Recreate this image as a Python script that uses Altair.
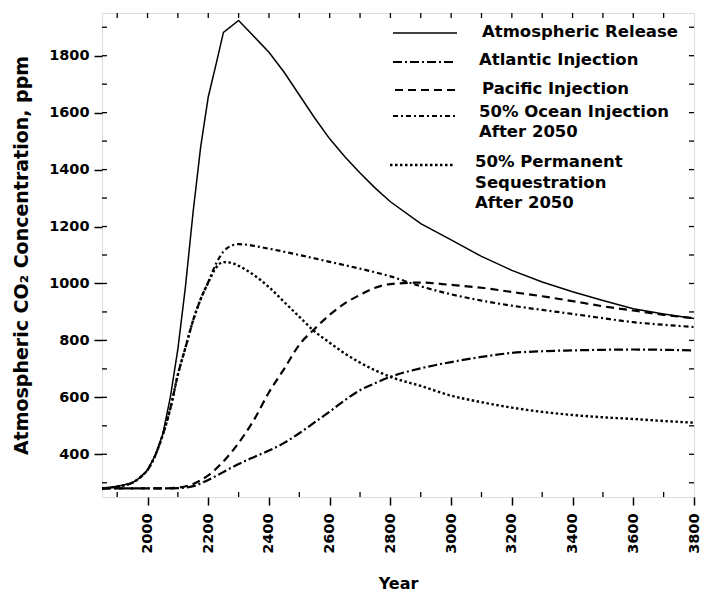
import altair as alt
import pandas as pd

# ---------------- data ----------------
years_atm = [1850, 1900, 1950, 1975, 2000, 2025, 2050, 2075, 2100, 2125, 2150, 2175, 2200,
             2225, 2250, 2300, 2350, 2400, 2450, 2500, 2550, 2600, 2650, 2700, 2750, 2800,
             2900, 3000, 3100, 3200, 3300, 3400, 3500, 3600, 3700, 3800]
atm = [280, 287, 300, 318, 345, 395, 470, 600, 770, 990, 1250, 1480, 1655,
       1767, 1882, 1924, 1868, 1812, 1742, 1662, 1582, 1508, 1445, 1388, 1335, 1287,
       1210, 1153, 1095, 1046, 1005, 971, 940, 911, 893, 877]

years_atl = [1850, 1950, 2050, 2100, 2150, 2200, 2250, 2300, 2350, 2400, 2450, 2500, 2550,
             2600, 2650, 2700, 2750, 2800, 2900, 3000, 3100, 3200, 3300, 3400, 3500, 3600,
             3700, 3800]
atl = [280, 280, 280, 281, 288, 310, 338, 366, 390, 413, 440, 474, 512,
       550, 590, 625, 650, 672, 702, 724, 742, 756, 762, 765, 767, 768,
       767, 765]

years_pac = [1850, 1950, 2050, 2100, 2150, 2200, 2250, 2300, 2350, 2400, 2450, 2500, 2550,
             2600, 2650, 2700, 2750, 2800, 2900, 3000, 3100, 3200, 3300, 3400, 3500, 3600,
             3700, 3800]
pac = [280, 280, 280, 283, 296, 326, 375, 440, 520, 618, 700, 785, 840,
       890, 930, 960, 985, 998, 1003, 995, 985, 970, 955, 938, 920, 905,
       890, 878]

years_ocean = [1850, 1900, 1950, 1975, 2000, 2025, 2050, 2075, 2100, 2125, 2150, 2175, 2200,
               2225, 2250, 2275, 2300, 2400, 2500, 2600, 2700, 2800, 2900, 3000, 3100, 3200,
               3300, 3400, 3500, 3600, 3700, 3800]
ocean = [280, 287, 300, 318, 345, 395, 468, 560, 680, 775, 870, 945, 1005,
         1068, 1112, 1132, 1138, 1122, 1100, 1076, 1052, 1025, 990, 962, 940, 922,
         907, 893, 878, 864, 855, 847]

years_perm = [1850, 1900, 1950, 1975, 2000, 2025, 2050, 2075, 2100, 2125, 2150, 2175, 2200,
              2225, 2250, 2275, 2300, 2350, 2400, 2450, 2500, 2550, 2600, 2650, 2700, 2800,
              2900, 3000, 3100, 3200, 3300, 3400, 3500, 3600, 3700, 3800]
perm = [280, 287, 300, 318, 345, 395, 468, 560, 680, 775, 870, 945, 1003,
        1055, 1075, 1073, 1062, 1030, 987, 935, 883, 832, 792, 754, 722, 672,
        640, 606, 583, 564, 549, 538, 530, 524, 517, 511]

series_names = ["Atmospheric Release", "Atlantic Injection", "Pacific Injection",
                "50% Ocean Injection After 2050", "50% Permanent Sequestration After 2050"]

x_major = [2000, 2200, 2400, 2600, 2800, 3000, 3200, 3400, 3600, 3800]
y_major = [400, 600, 800, 1000, 1200, 1400, 1600, 1800]
x_minor_all = list(range(1900, 3800, 100))
x_minor_odd = list(range(1900, 3800, 200))
y_minor_all = list(range(300, 1950, 100))

legend_lines = {
    "Atmospheric Release": ["Atmospheric Release"],
    "Atlantic Injection": ["Atlantic Injection"],
    "Pacific Injection": ["Pacific Injection"],
    "50% Ocean Injection After 2050": ["50% Ocean Injection", "After 2050"],
    "50% Permanent Sequestration After 2050": ["50% Permanent", "Sequestration", "After 2050"],
}

# ---------------- build ----------------
data_map = {
    "Atmospheric Release": (years_atm, atm),
    "Atlantic Injection": (years_atl, atl),
    "Pacific Injection": (years_pac, pac),
    "50% Ocean Injection After 2050": (years_ocean, ocean),
    "50% Permanent Sequestration After 2050": (years_perm, perm),
}
rows = []
for name in series_names:
    ys, vs = data_map[name]
    for yr, v in zip(ys, vs):
        rows.append({"series": name, "year": yr, "ppm": v})
df = pd.DataFrame(rows)

FONT = "DejaVu Sans"
W, H = 592, 484

xscale = alt.Scale(domain=[1850, 3800], nice=False, zero=False)
yscale = alt.Scale(domain=[250, 1950], nice=False, zero=False)

xaxis = alt.Axis(values=x_major, format="d", labelAngle=270, labelFont=FONT,
                 labelFontWeight="bold", labelFontSize=14.5, labelColor="black",
                 labelPadding=8, tickSize=8, tickWidth=1.5, tickColor="black",
                 domain=False, grid=False, title="Year", titleFont=FONT,
                 titleFontWeight="bold", titleFontSize=16, titleColor="black",
                 titleX=W / 2, titleY=86, titleAlign="center", titleBaseline="middle")
yaxis = alt.Axis(values=y_major, format="d", labelFont=FONT, labelFontWeight="bold",
                 labelFontSize=14.5, labelColor="black", labelPadding=5, tickSize=8,
                 tickWidth=1.5, tickColor="black", domain=False, grid=False,
                 title="Atmospheric CO₂ Concentration, ppm", titleFont=FONT,
                 titleFontWeight="bold", titleFontSize=19, titleColor="black",
                 titleAngle=270, titleX=-81, titleY=H / 2, titleAlign="center",
                 titleBaseline="middle")

styles = {
    "Atmospheric Release": dict(strokeWidth=1.5, interpolate="linear"),
    "Atlantic Injection": dict(strokeWidth=2.2, strokeDash=[9, 3, 2, 3], interpolate="monotone"),
    "Pacific Injection": dict(strokeWidth=2.2, strokeDash=[8, 5], interpolate="monotone"),
    "50% Ocean Injection After 2050": dict(strokeWidth=2.2, strokeDash=[5, 3, 2, 3], interpolate="monotone"),
    "50% Permanent Sequestration After 2050": dict(strokeWidth=2.4, strokeDash=[2.5, 2.5], interpolate="monotone"),
}

layers = []
for name in series_names:
    layers.append(
        alt.Chart(df).transform_filter(alt.datum.series == name)
        .mark_line(color="black", **styles[name])
        .encode(x=alt.X("year:Q", scale=xscale, axis=xaxis),
                y=alt.Y("ppm:Q", scale=yscale, axis=yaxis))
    )

# inner minor ticks
top_df = pd.DataFrame({"t": x_minor_all})
bot_df = pd.DataFrame({"t": x_minor_odd})
side_df = pd.DataFrame({"v": y_minor_all})
tick_style = dict(color="black", strokeWidth=1.3)
layers.append(alt.Chart(top_df).mark_rule(**tick_style).encode(
    x=alt.X("t:Q", scale=xscale, axis=xaxis), y=alt.value(0), y2=alt.value(5)))
layers.append(alt.Chart(bot_df).mark_rule(**tick_style).encode(
    x=alt.X("t:Q", scale=xscale, axis=xaxis), y=alt.value(H), y2=alt.value(H - 5)))
layers.append(alt.Chart(side_df).mark_rule(**tick_style).encode(
    y=alt.Y("v:Q", scale=yscale, axis=yaxis), x=alt.value(0), x2=alt.value(5)))
layers.append(alt.Chart(side_df).mark_rule(**tick_style).encode(
    y=alt.Y("v:Q", scale=yscale, axis=yaxis), x=alt.value(W), x2=alt.value(W - 5)))

# legend (manual, inside plot at top right)
leg_rule_pos = {
    "Atmospheric Release": (291, 355, 20),
    "Atlantic Injection": (291, 353, 49),
    "Pacific Injection": (293, 353, 77),
    "50% Ocean Injection After 2050": (291, 353, 103),
    "50% Permanent Sequestration After 2050": (288, 351, 152),
}
leg_text_pos = {
    "Atmospheric Release": (380, [19]),
    "Atlantic Injection": (377, [47]),
    "Pacific Injection": (380, [76]),
    "50% Ocean Injection After 2050": (377, [99, 119]),
    "50% Permanent Sequestration After 2050": (373, [149, 170, 190]),
}
dummy = pd.DataFrame({"a": [0]})
for name in series_names:
    x1, x2, yy = leg_rule_pos[name]
    st = {k: v for k, v in styles[name].items() if k != "interpolate"}
    layers.append(alt.Chart(dummy).mark_rule(color="black", **st).encode(
        x=alt.value(x1), x2=alt.value(x2), y=alt.value(yy)))
    tx, tys = leg_text_pos[name]
    for line, ty in zip(legend_lines[name], tys):
        layers.append(alt.Chart(dummy).mark_text(
            align="left", baseline="middle", font=FONT, fontWeight="bold",
            fontSize=16.5, color="black").encode(
            x=alt.value(tx), y=alt.value(ty), text=alt.value(line)))

chart = alt.layer(*layers).properties(
    width=W, height=H,
    autosize=alt.AutoSizeParams(type="none"),
    padding={"left": 94, "top": 5, "right": 7, "bottom": 94},
).configure_view(stroke="black", strokeWidth=2).configure(background="white")

chart.save("out.html", embed_options={"renderer": "svg", "actions": False})
